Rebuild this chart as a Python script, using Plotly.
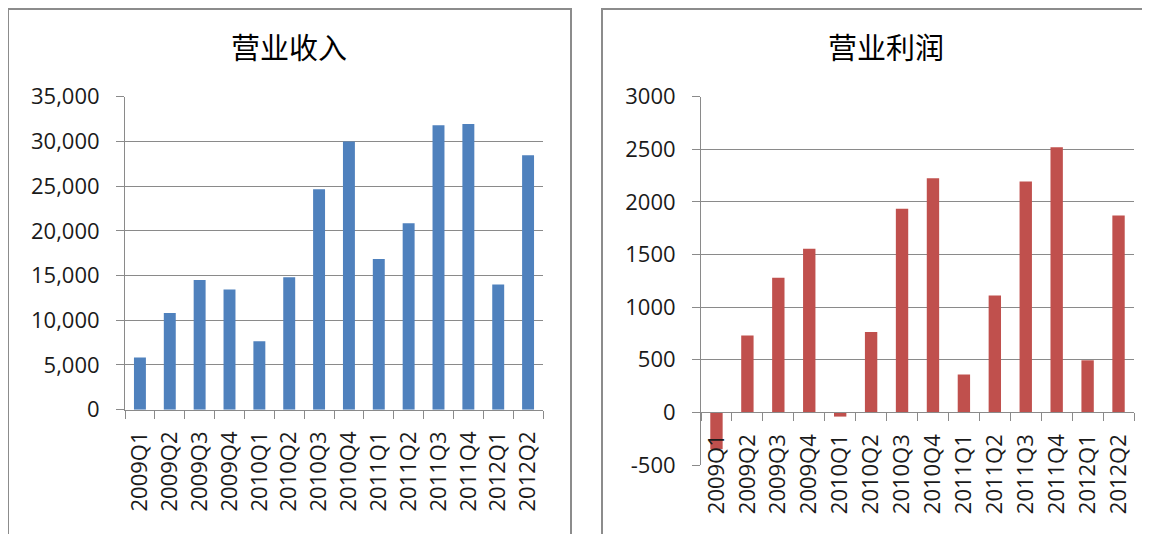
import plotly.graph_objects as go

quarters = ["2009Q1", "2009Q2", "2009Q3", "2009Q4", "2010Q1", "2010Q2", "2010Q3",
            "2010Q4", "2011Q1", "2011Q2", "2011Q3", "2011Q4", "2012Q1", "2012Q2"]
revenue = [5850, 10800, 14500, 13450, 7650, 14800, 24650,
           30000, 16850, 20850, 31800, 31950, 14000, 28450]
profit = [-350, 730, 1280, 1555, -40, 765, 1935,
          2225, 360, 1110, 2195, 2520, 495, 1870]

title_left = "营业收入"
title_right = "营业利润"
rev_ticks = [0, 5000, 10000, 15000, 20000, 25000, 30000, 35000]
rev_ticktext = ["0", "5,000", "10,000", "15,000", "20,000", "25,000", "30,000", "35,000"]
prof_ticks = [-500, 0, 500, 1000, 1500, 2000, 2500, 3000]
prof_ticktext = ["-500", "0", "500", "1000", "1500", "2000", "2500", "3000"]

OFF = 8  # page body margin
W, H = 1150 - OFF, 534 - OFF


def px_x(v):
    return (v - OFF) / W


def px_y(v):
    return 1 - (v - OFF) / H


GRID = "#8a8a8a"
FONT = "Open Sans"
CJK = "Noto Sans CJK SC"

fig = go.Figure()
fig.add_trace(go.Bar(x=quarters, y=revenue, marker=dict(color="#4F81BD", line=dict(width=0)),
                     xaxis="x", yaxis="y", showlegend=False))
fig.add_trace(go.Bar(x=quarters, y=profit, marker=dict(color="#C0504D", line=dict(width=0)),
                     xaxis="x2", yaxis="y2", showlegend=False))

l_x0, l_x1 = px_x(125), px_x(543)
l_ytop, l_ybot = px_y(96.7), px_y(409.7)
r_x0, r_x1 = px_x(701), px_x(1134)
r_ytop, r_ybot = px_y(96.7), px_y(465)
r_zero = r_ybot + (r_ytop - r_ybot) * (500 / 3500)

common_x = dict(type="category", showline=True, linecolor=GRID, linewidth=1,
                ticks="outside", tickson="boundaries", ticklen=8, tickcolor=GRID,
                tickangle=-90, tickfont=dict(family=FONT, size=22, color="#1a1a1a"),
                showgrid=False, automargin=False, ticklabelstandoff=12, fixedrange=True)
common_y = dict(showline=True, linecolor=GRID, linewidth=1, ticks="outside", ticklen=8,
                tickcolor=GRID, showgrid=True, gridcolor=GRID, gridwidth=1,
                zeroline=False, tickfont=dict(family=FONT, size=22, color="#1a1a1a"),
                automargin=False, ticklabelstandoff=12, tickmode="array")

fig.update_layout(
    width=W, height=H,
    margin=dict(l=0, r=0, t=0, b=0),
    paper_bgcolor="white", plot_bgcolor="white",
    bargap=0.6,
    xaxis=dict(domain=[l_x0, l_x1], anchor="y", range=[-0.5, 13.5], **common_x),
    yaxis=dict(domain=[l_ybot, l_ytop], anchor="x", range=[0, 35000],
               tickvals=rev_ticks, ticktext=rev_ticktext, **common_y),
    xaxis2=dict(domain=[r_x0, r_x1], anchor="free", position=r_zero,
                range=[-0.5, 13.5], **common_x),
    yaxis2=dict(domain=[r_ybot, r_ytop], anchor="x2", range=[-500, 3000],
                tickvals=prof_ticks, ticktext=prof_ticktext, **common_y),
    shapes=[
        dict(type="rect", xref="paper", yref="paper", x0=px_x(8), x1=px_x(571),
             y0=px_y(560), y1=px_y(9), line=dict(color="#8c8c8c", width=2),
             fillcolor="rgba(0,0,0,0)", layer="below"),
        dict(type="rect", xref="paper", yref="paper", x0=px_x(602), x1=px_x(1170),
             y0=px_y(560), y1=px_y(9), line=dict(color="#8c8c8c", width=2),
             fillcolor="rgba(0,0,0,0)", layer="below"),
    ],
    annotations=[
        dict(text=title_left, xref="paper", yref="paper", x=px_x(289), y=px_y(46),
             xanchor="center", yanchor="middle", showarrow=False,
             font=dict(family=CJK, size=29, color="#000000")),
        dict(text=title_right, xref="paper", yref="paper", x=px_x(886), y=px_y(46),
             xanchor="center", yanchor="middle", showarrow=False,
             font=dict(family=CJK, size=29, color="#000000")),
    ],
)

fig.write_html("out.html")
